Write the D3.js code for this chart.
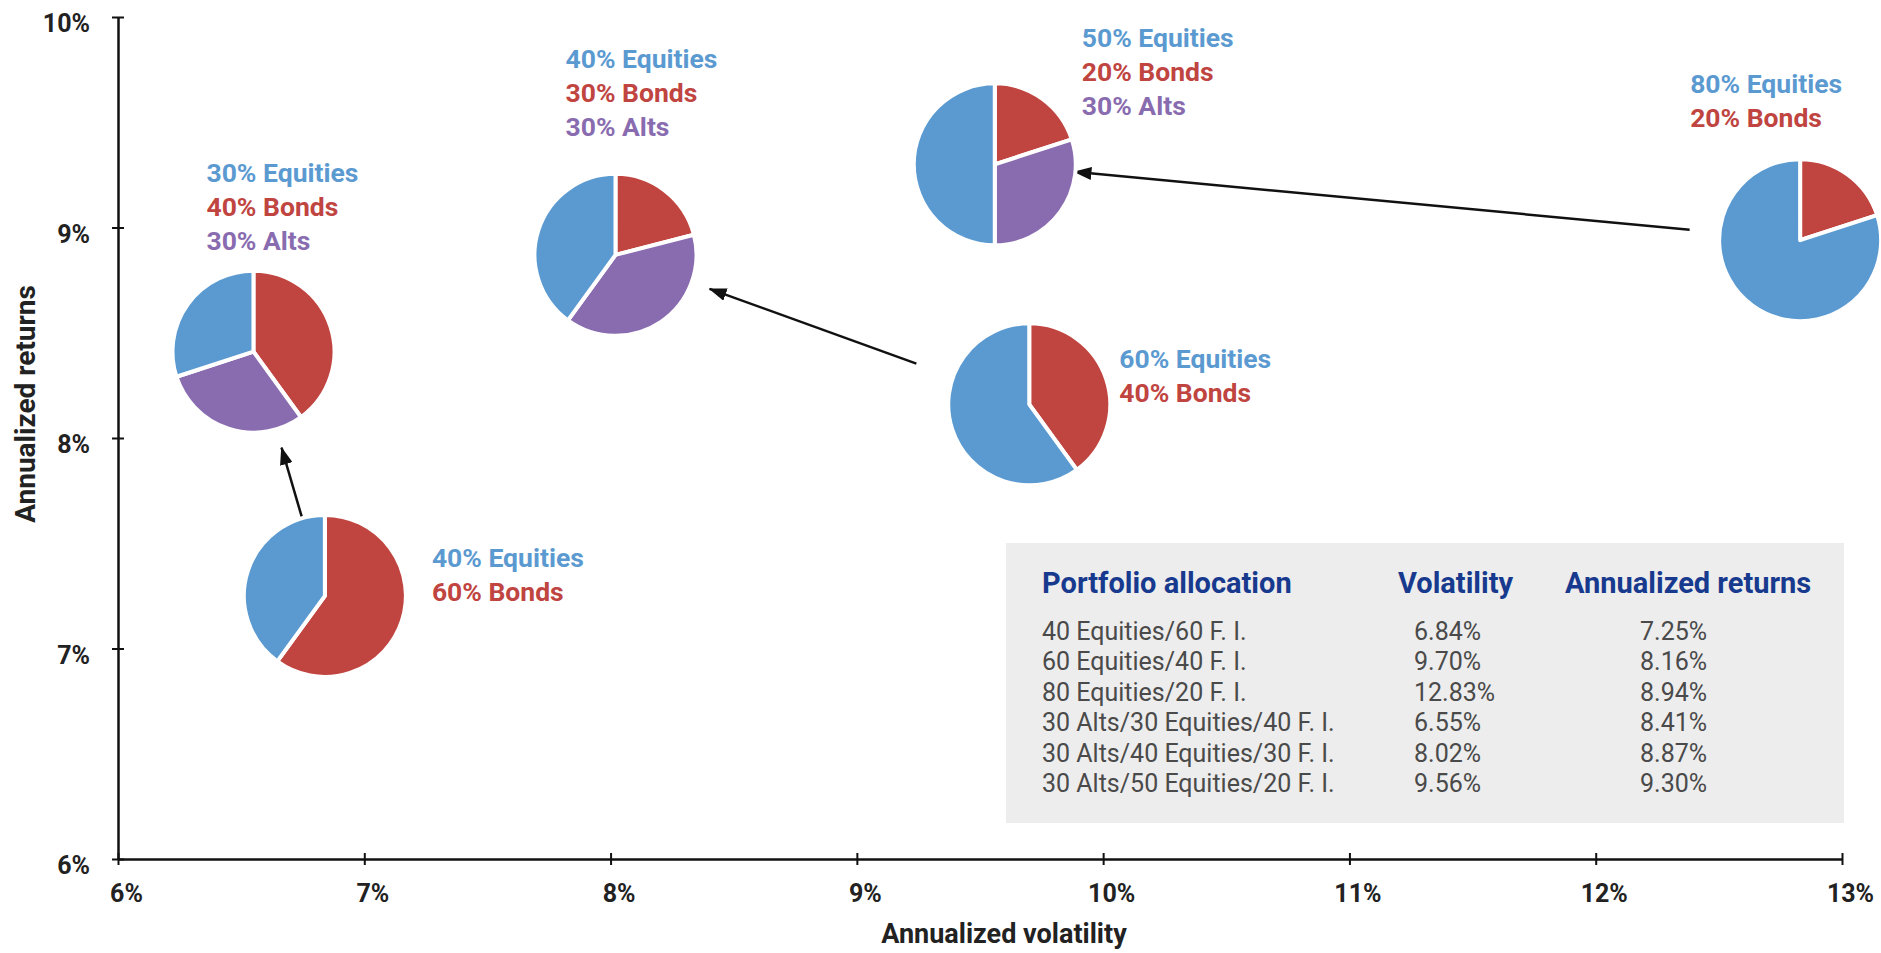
<!DOCTYPE html>
<html>
<head>
<meta charset="utf-8">
<script src="https://cdn.jsdelivr.net/npm/d3@7"></script>
<style>
  body { margin: 0; background: #fff; }
  text { font-family: Roboto, "Noto Sans", sans-serif; }
</style>
</head>
<body>
<svg id="chart"></svg>
<script>
// table / scatter data
const portfolios = [
  "40 Equities/60 F. I.",
  "60 Equities/40 F. I.",
  "80 Equities/20 F. I.",
  "30 Alts/30 Equities/40 F. I.",
  "30 Alts/40 Equities/30 F. I.",
  "30 Alts/50 Equities/20 F. I."
];
const volatility = [6.84, 9.70, 12.83, 6.55, 8.02, 9.56];
const returns = [7.25, 8.16, 8.94, 8.41, 8.87, 9.30];

// allocation labels next to each pie
const equities = [40, 60, 80, 30, 40, 50];
const bonds = [60, 40, 20, 40, 30, 20];
const alts = [0, 0, 0, 30, 30, 30];

// slice sizes as drawn in the pies
const pieEquities = [40, 60, 80, 30, 40, 50];
const pieBonds = [60, 40, 20, 40, 21, 20];
const pieAlts = [0, 0, 0, 30, 39, 30];

const xTicks = [6, 7, 8, 9, 10, 11, 12, 13];
const yTicks = [6, 7, 8, 9, 10];

// arrows: from portfolio index -> to portfolio index
const arrows = [
  { from: 0, to: 3, startGap: 82, endGap: 100 },
  { from: 1, to: 4, startGap: 120, endGap: 100 },
  { from: 2, to: 5, startGap: 111, endGap: 80 }
];

// where the allocation text sits relative to each pie
const labelOffsets = [
  [107, -38], [90, -46], [-110, -156], [-47, -179], [-50, -196], [87, -127]
];

const width = 1881, height = 953;
const colors = { equities: "#5b9ad1", bonds: "#c0443f", alts: "#896cb0" };

const svg = d3.select("#chart")
  .attr("width", width)
  .attr("height", height);

const x = d3.scaleLinear().domain([6, 13]).range([118, 1842]);
const y = d3.scaleLinear().domain([6, 10]).range([859, 17]);

// table box
const tableX = 1006, tableY = 543;
svg.append("rect")
  .attr("x", tableX)
  .attr("y", tableY)
  .attr("width", 838)
  .attr("height", 280)
  .attr("fill", "#ededed");

const cols = [tableX + 36, tableX + 392, tableX + 559];
const headers = ["Portfolio allocation", "Volatility", "Annualized returns"];
svg.append("g").selectAll("text")
  .data(headers)
  .join("text")
  .attr("x", (d, i) => cols[i])
  .attr("y", tableY + 40)
  .attr("dy", "0.35em")
  .attr("font-size", 29)
  .attr("font-weight", 700)
  .attr("fill", "#173a8e")
  .text(d => d);

const valueCols = [tableX + 36, tableX + 408, tableX + 634];
const rows = svg.append("g").selectAll("g")
  .data(portfolios.map((p, i) => [p, volatility[i].toFixed(2) + "%", returns[i].toFixed(2) + "%"]))
  .join("g")
  .attr("transform", (d, i) => `translate(0,${tableY + 88 + i * 30.5})`);
rows.selectAll("text")
  .data(d => d)
  .join("text")
  .attr("x", (d, i) => valueCols[i])
  .attr("dy", "0.35em")
  .attr("font-size", 25)
  .attr("fill", "#4a4a4a")
  .text(d => d);

// axes
const xAxis = svg.append("g")
  .attr("transform", `translate(0,${y(6)})`)
  .call(d3.axisBottom(x).tickValues(xTicks).tickSizeOuter(0).tickFormat(d => d + "%"));
const yAxis = svg.append("g")
  .attr("transform", `translate(${x(6)},0)`)
  .call(d3.axisLeft(y).tickValues(yTicks).tickSizeOuter(0).tickFormat(d => d + "%"));

[xAxis, yAxis].forEach(g => {
  g.select(".domain").attr("stroke", "#111").attr("stroke-width", 2.5);
  g.selectAll(".tick line").attr("stroke", "#111").attr("stroke-width", 2);
  g.selectAll(".tick text")
    .attr("font-family", "Roboto, sans-serif")
    .attr("font-size", 25)
    .attr("font-weight", 700)
    .attr("fill", "#222");
});
xAxis.selectAll(".tick line").attr("y1", -6).attr("y2", 6);
xAxis.selectAll(".tick text").attr("y", 34).attr("dy", "0.35em").attr("dx", 8);
yAxis.selectAll(".tick line").attr("x1", -6).attr("x2", 6);
yAxis.selectAll(".tick text").attr("x", -28).attr("dy", "0.35em").attr("y", 6);

svg.append("text")
  .attr("x", 1004)
  .attr("y", 934)
  .attr("dy", "0.35em")
  .attr("text-anchor", "middle")
  .attr("font-size", 27)
  .attr("font-weight", 700)
  .attr("fill", "#222")
  .text("Annualized volatility");

svg.append("text")
  .attr("transform", "translate(25,404) rotate(-90)")
  .attr("dy", "0.35em")
  .attr("text-anchor", "middle")
  .attr("font-size", 28)
  .attr("font-weight", 700)
  .attr("fill", "#222")
  .text("Annualized returns");

// arrow marker
svg.append("defs").append("marker")
  .attr("id", "head")
  .attr("viewBox", "0 0 18 13")
  .attr("refX", 17)
  .attr("refY", 6.5)
  .attr("markerWidth", 18)
  .attr("markerHeight", 13)
  .attr("markerUnits", "userSpaceOnUse")
  .attr("orient", "auto")
  .append("path")
  .attr("d", "M0,0L18,6.5L0,13Z")
  .attr("fill", "#111");

svg.append("g").selectAll("line")
  .data(arrows)
  .join("line")
  .each(function (a) {
    const x0 = x(volatility[a.from]), y0 = y(returns[a.from]);
    const x1 = x(volatility[a.to]), y1 = y(returns[a.to]);
    const len = Math.hypot(x1 - x0, y1 - y0);
    const ux = (x1 - x0) / len, uy = (y1 - y0) / len;
    d3.select(this)
      .attr("x1", x0 + ux * a.startGap)
      .attr("y1", y0 + uy * a.startGap)
      .attr("x2", x1 - ux * a.endGap)
      .attr("y2", y1 - uy * a.endGap);
  })
  .attr("stroke", "#111")
  .attr("stroke-width", 2.5)
  .attr("marker-end", "url(#head)");

// pies
const radius = 81;
const pie = d3.pie().sort(null).value(d => d.v);
const arc = d3.arc().innerRadius(0).outerRadius(radius);

const pies = svg.append("g").selectAll("g")
  .data(portfolios.map((p, i) => i))
  .join("g")
  .attr("transform", i => `translate(${x(volatility[i])},${y(returns[i])})`);

pies.append("circle")
  .attr("r", radius)
  .attr("fill", "none")
  .attr("stroke", "#e4e4ee")
  .attr("stroke-width", 2);

pies.selectAll("path")
  .data(i => pie([
    { k: "bonds", v: pieBonds[i] },
    { k: "alts", v: pieAlts[i] },
    { k: "equities", v: pieEquities[i] }
  ].filter(s => s.v > 0)))
  .join("path")
  .attr("d", arc)
  .attr("fill", d => colors[d.data.k])
  .attr("stroke", "#fff")
  .attr("stroke-width", 4)
  .attr("stroke-linejoin", "round");

// allocation labels
const labels = svg.append("g").selectAll("text")
  .data(portfolios.map((p, i) => i))
  .join("text")
  .attr("x", i => x(volatility[i]) + labelOffsets[i][0])
  .attr("y", i => y(returns[i]) + labelOffsets[i][1])
  .attr("font-size", 26.5)
  .attr("font-weight", 700);

labels.selectAll("tspan")
  .data(i => [
    { t: equities[i] + "% Equities", k: "equities", v: equities[i] },
    { t: bonds[i] + "% Bonds", k: "bonds", v: bonds[i] },
    { t: alts[i] + "% Alts", k: "alts", v: alts[i] }
  ].filter(d => d.v > 0).map((d, j) => ({ ...d, j })))
  .join("tspan")
  .attr("x", function () { return d3.select(this.parentNode).attr("x"); })
  .attr("dy", d => d.j === 0 ? "0.35em" : 34)
  .attr("fill", d => colors[d.k])
  .text(d => d.t);
</script>
</body>
</html>
